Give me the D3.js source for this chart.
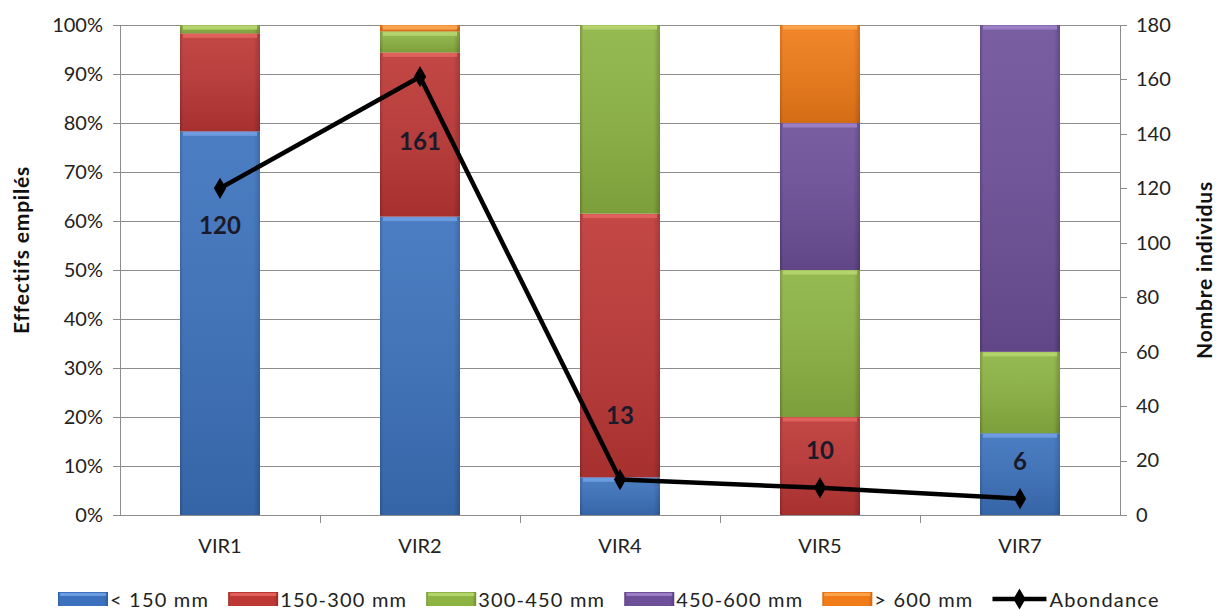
<!DOCTYPE html>
<html><head><meta charset="utf-8">
<script src="https://cdn.jsdelivr.net/npm/d3@7"></script>
<style>
html,body{margin:0;padding:0;background:#fff;}
svg{display:block;font-family:Lato,"Open Sans",sans-serif;}
</style></head>
<body><svg id="c" width="1216" height="610"></svg>
<script>
// ---- data ----
const categories = ["VIR1","VIR2","VIR4","VIR5","VIR7"];
const seriesNames = ["< 150 mm","150-300 mm","300-450 mm","450-600 mm","> 600 mm"];
const lt150   = [78.3, 60.9, 7.7, 0, 16.7];
const s150_300 = [20.0, 33.5, 53.8, 20, 0];
const s300_450 = [1.7, 4.3, 38.5, 30, 16.6];
const s450_600 = [0, 0, 0, 30, 66.7];
const gt600   = [0, 1.3, 0, 20, 0];
const abondance = [120, 161, 13, 10, 6];
const leftTicks = [0,10,20,30,40,50,60,70,80,90,100];
const rightTicks = [0,20,40,60,80,100,120,140,160,180];
const lineName = "Abondance";

// ---- styles ----
const colors = [
  {top:"#6d9be0", mid:"#3c72bd", bot:"#2f5e9e"},
  {top:"#e0605c", mid:"#bd3735", bot:"#9c2a2a"},
  {top:"#b4d36c", mid:"#8db443", bot:"#6f8f30"},
  {top:"#9b7fc4", mid:"#6e509a", bot:"#553c7c"},
  {top:"#fba24c", mid:"#f07b17", bot:"#d06410"}
];
const labelOffsets = [36, 64, -65, -38, -38];

const svg = d3.select("#c");
const m = {left:120, right:1120, top:25, bottom:515};
const x = d3.scaleBand().domain(categories).range([m.left, m.right]).paddingInner(0.6).paddingOuter(0.3);
const xb = d3.scaleBand().domain(categories).range([m.left, m.right]);
const yL = d3.scaleLinear().domain([0,100]).range([m.bottom, m.top]);
const yR = d3.scaleLinear().domain([0,180]).range([m.bottom, m.top]);

const defs = svg.append("defs");
colors.forEach((c,i)=>{
  const g = defs.append("linearGradient").attr("id","g"+i).attr("x1",0).attr("x2",1).attr("y1",0).attr("y2",0);
  g.append("stop").attr("offset","0%").attr("stop-color",c.bot);
  g.append("stop").attr("offset","4%").attr("stop-color",c.mid);
  g.append("stop").attr("offset","92%").attr("stop-color",c.mid);
  g.append("stop").attr("offset","100%").attr("stop-color",c.bot);
  const v = defs.append("linearGradient").attr("id","v"+i).attr("x1",0).attr("x2",0).attr("y1",0).attr("y2",1);
  v.append("stop").attr("offset","0%").attr("stop-color","#fff").attr("stop-opacity",0.08);
  v.append("stop").attr("offset","100%").attr("stop-color","#000").attr("stop-opacity",0.12);
});

// gridlines
svg.append("g").selectAll("line").data(leftTicks).join("line")
  .attr("x1",m.left).attr("x2",m.right).attr("y1",d=>yL(d)).attr("y2",d=>yL(d))
  .attr("stroke","#8c8c8c").attr("stroke-width",1).attr("shape-rendering","crispEdges");

// left axis
const axL = svg.append("g").attr("transform",`translate(${m.left},0)`)
  .call(d3.axisLeft(yL).tickValues(leftTicks).tickFormat(d=>d+"%").tickSize(7).tickPadding(10));
axL.select(".domain").attr("stroke","#8c8c8c").attr("shape-rendering","crispEdges");
axL.selectAll(".tick line").attr("stroke","#8c8c8c").attr("shape-rendering","crispEdges");
axL.selectAll("text").attr("font-size",20).attr("fill","#222").attr("font-family","Lato");

// right axis
const axR = svg.append("g").attr("transform",`translate(${m.right},0)`)
  .call(d3.axisRight(yR).tickValues(rightTicks).tickSize(7).tickPadding(9));
axR.select(".domain").attr("stroke","#8c8c8c").attr("shape-rendering","crispEdges");
axR.selectAll(".tick line").attr("stroke","#8c8c8c").attr("shape-rendering","crispEdges");
axR.selectAll("text").attr("font-size",20).attr("fill","#222").attr("font-family","Lato");

// bottom axis
const axB = svg.append("g").attr("transform",`translate(0,${m.bottom})`)
  .call(d3.axisBottom(xb).tickSize(0).tickPadding(24));
axB.select(".domain").remove();
axB.selectAll("text").attr("font-size",20).attr("fill","#222").attr("font-family","Lato");
const bounds = categories.slice(1).map(c=>xb(c));
svg.append("g").selectAll("line").data(bounds).join("line")
  .attr("x1",d=>d).attr("x2",d=>d).attr("y1",m.bottom).attr("y2",m.bottom+8)
  .attr("stroke","#8c8c8c").attr("shape-rendering","crispEdges");

// stacked bars
const seriesArrays = [lt150, s150_300, s300_450, s450_600, gt600];
const rows = categories.map((c,i)=>{const r={cat:c}; seriesNames.forEach((s,j)=>r[s]=seriesArrays[j][i]); return r;});
const stack = d3.stack().keys(seriesNames)(rows);
stack.forEach((layer,i)=>{
  const g = svg.append("g");
  const segs = layer.filter(d=>d[1]-d[0]>0);
  g.selectAll("rect.b").data(segs).join("rect")
    .attr("x",d=>x(d.data.cat)).attr("width",x.bandwidth())
    .attr("y",d=>yL(d[1])).attr("height",d=>yL(d[0])-yL(d[1]))
    .attr("fill",`url(#g${i})`);
  g.selectAll("rect.s").data(segs).join("rect")
    .attr("x",d=>x(d.data.cat)).attr("width",x.bandwidth())
    .attr("y",d=>yL(d[1])).attr("height",d=>yL(d[0])-yL(d[1]))
    .attr("fill",`url(#v${i})`);
  g.selectAll("rect.h").data(segs).join("rect")
    .attr("x",d=>x(d.data.cat)+3).attr("width",x.bandwidth()-6)
    .attr("y",d=>yL(d[1])+0.5).attr("height",d=>Math.min(4, yL(d[0])-yL(d[1])-1))
    .attr("fill",colors[i].top);
});

// line
const cx = c=>xb(c)+xb.bandwidth()/2;
const pts = categories.map((c,i)=>({c, v:abondance[i], i}));
svg.append("path").datum(pts)
  .attr("d", d3.line().x(d=>cx(d.c)).y(d=>yR(d.v)))
  .attr("fill","none").attr("stroke","#000").attr("stroke-width",4.5).attr("stroke-linejoin","round");
svg.append("g").selectAll("path").data(pts).join("path")
  .attr("d", d3.symbol(d3.symbolDiamond, 130))
  .attr("transform",d=>`translate(${cx(d.c)},${yR(d.v)})`)
  .attr("fill","#000");
svg.append("g").selectAll("text").data(pts).join("text")
  .attr("x",d=>cx(d.c)).attr("y",d=>yR(d.v)+labelOffsets[d.i])
  .attr("text-anchor","middle").attr("dominant-baseline","central")
  .attr("font-size",24).attr("font-weight","bold").attr("fill","#1a1a2a")
  .text(d=>d.v);

// axis titles
svg.append("text").attr("transform","translate(29,250) rotate(-90)")
  .attr("text-anchor","middle").attr("font-size",21).attr("font-weight","bold").attr("fill","#111")
  .attr("letter-spacing",0.8)
  .text("Effectifs empilés");
svg.append("text").attr("transform","translate(1212,270) rotate(-90)")
  .attr("text-anchor","middle").attr("font-size",21).attr("font-weight","bold").attr("fill","#111")
  .attr("letter-spacing",0.8)
  .text("Nombre individus");

// legend
const legendItems = seriesNames.map((s,i)=>({name:s, i, type:"bar"})).concat([{name:lineName, type:"line"}]);
const lg = svg.append("g").attr("font-size",20).attr("fill","#222").attr("letter-spacing",1.2);
let lx = 58; const ly = 599;
legendItems.forEach(it=>{
  const g = lg.append("g").attr("transform",`translate(${lx},${ly})`);
  if(it.type==="bar"){
    g.append("rect").attr("x",0).attr("y",-7).attr("width",50).attr("height",14).attr("fill",`url(#g${it.i})`);
    g.append("rect").attr("x",2).attr("y",-6).attr("width",46).attr("height",3).attr("fill",colors[it.i].top);
  } else {
    g.append("line").attr("x1",0).attr("x2",54).attr("y1",0).attr("y2",0).attr("stroke","#000").attr("stroke-width",4.5);
    g.append("path").attr("d",d3.symbol(d3.symbolDiamond,130)).attr("transform","translate(27,0)").attr("fill","#000");
  }
  const t = g.append("text").attr("x", it.type==="bar"?52:57).attr("y",0).attr("dominant-baseline","central").text(it.name);
  lx += (it.type==="bar"?52:57) + t.node().getComputedTextLength() + 19;
});
</script>
</body></html>
